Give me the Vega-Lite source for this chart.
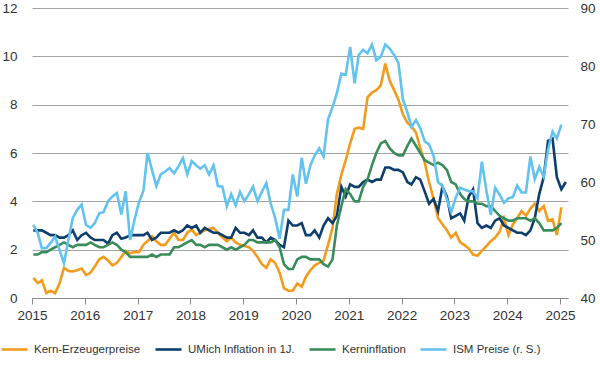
{
"$schema":"https://vega.github.io/schema/vega-lite/v6.json",
"width":536,"height":290,
"autosize":{"type":"none"},
"padding":{"left":32,"top":8,"right":32,"bottom":82},
"background":"white",
"config":{"view":{"stroke":null},"axis":{"labelFont":"Liberation Sans","labelFontSize":13.5,"labelColor":"#333333","title":null}},
"datasets":{
"K":[
{"d":"2015-01-10","v":0.83},{"d":"2015-02-10","v":0.62},{"d":"2015-03-10","v":0.73},{"d":"2015-04-10","v":0.2},{"d":"2015-05-10","v":0.3},{"d":"2015-06-10","v":0.2},{"d":"2015-07-10","v":0.6},{"d":"2015-08-10","v":1.25},{"d":"2015-09-10","v":1.12},{"d":"2015-10-10","v":1.1},{"d":"2015-11-10","v":1.15},{"d":"2015-12-10","v":1.22},
{"d":"2016-01-10","v":0.95},{"d":"2016-02-10","v":1.05},{"d":"2016-03-10","v":1.3},{"d":"2016-04-10","v":1.6},{"d":"2016-05-10","v":1.7},{"d":"2016-06-10","v":1.55},{"d":"2016-07-10","v":1.35},{"d":"2016-08-10","v":1.45},{"d":"2016-09-10","v":1.7},{"d":"2016-10-10","v":1.95},{"d":"2016-11-10","v":1.85},{"d":"2016-12-10","v":1.9},
{"d":"2017-01-10","v":1.9},{"d":"2017-02-10","v":2.2},{"d":"2017-03-10","v":2.35},{"d":"2017-04-10","v":2.55},{"d":"2017-05-10","v":2.35},{"d":"2017-06-10","v":2.2},{"d":"2017-07-10","v":2.2},{"d":"2017-08-10","v":2.45},{"d":"2017-09-10","v":2.7},{"d":"2017-10-10","v":2.4},{"d":"2017-11-10","v":2.4},{"d":"2017-12-10","v":2.7},
{"d":"2018-01-10","v":2.83},{"d":"2018-02-10","v":2.6},{"d":"2018-03-10","v":2.7},{"d":"2018-04-10","v":2.8},{"d":"2018-05-10","v":2.85},{"d":"2018-06-10","v":2.9},{"d":"2018-07-10","v":2.7},{"d":"2018-08-10","v":2.5},{"d":"2018-09-10","v":2.35},{"d":"2018-10-10","v":2.5},{"d":"2018-11-10","v":2.3},{"d":"2018-12-10","v":2.2},
{"d":"2019-01-10","v":2.15},{"d":"2019-02-10","v":2.1},{"d":"2019-03-10","v":1.95},{"d":"2019-04-10","v":1.7},{"d":"2019-05-10","v":1.4},{"d":"2019-06-10","v":1.25},{"d":"2019-07-10","v":1.6},{"d":"2019-08-10","v":1.45},{"d":"2019-09-10","v":1.05},{"d":"2019-10-10","v":0.4},{"d":"2019-11-10","v":0.3},{"d":"2019-12-10","v":0.3},
{"d":"2020-01-10","v":0.6},{"d":"2020-02-10","v":0.47},{"d":"2020-03-10","v":0.88},{"d":"2020-04-10","v":1.15},{"d":"2020-05-10","v":1.35},{"d":"2020-06-10","v":1.45},{"d":"2020-07-10","v":1.55},{"d":"2020-08-10","v":2.2},{"d":"2020-09-10","v":2.9},{"d":"2020-10-10","v":4.3},{"d":"2020-11-10","v":5.1},{"d":"2020-12-10","v":5.7},
{"d":"2021-01-10","v":6.4},{"d":"2021-02-10","v":7.0},{"d":"2021-03-10","v":7.05},{"d":"2021-04-10","v":7.0},{"d":"2021-05-10","v":8.3},{"d":"2021-06-10","v":8.5},{"d":"2021-07-10","v":8.6},{"d":"2021-08-10","v":8.8},{"d":"2021-09-10","v":9.7},{"d":"2021-10-10","v":9.0},{"d":"2021-11-10","v":8.6},{"d":"2021-12-10","v":8.2},
{"d":"2022-01-10","v":7.6},{"d":"2022-02-10","v":7.25},{"d":"2022-03-10","v":7.1},{"d":"2022-04-10","v":6.85},{"d":"2022-05-10","v":6.2},{"d":"2022-06-10","v":5.6},{"d":"2022-07-10","v":4.8},{"d":"2022-08-10","v":4.1},{"d":"2022-09-10","v":3.3},{"d":"2022-10-10","v":3.05},{"d":"2022-11-10","v":2.8},{"d":"2022-12-10","v":2.5},
{"d":"2023-01-10","v":2.7},{"d":"2023-02-10","v":2.3},{"d":"2023-03-10","v":2.2},{"d":"2023-04-10","v":2.05},{"d":"2023-05-10","v":1.8},{"d":"2023-06-10","v":1.75},{"d":"2023-07-10","v":1.95},{"d":"2023-08-10","v":2.15},{"d":"2023-09-10","v":2.35},{"d":"2023-10-10","v":2.5},{"d":"2023-11-10","v":2.75},{"d":"2023-12-10","v":3.3},
{"d":"2024-01-10","v":2.6},{"d":"2024-02-10","v":3.05},{"d":"2024-03-10","v":3.3},{"d":"2024-04-10","v":3.6},{"d":"2024-05-10","v":3.4},{"d":"2024-06-10","v":3.7},{"d":"2024-07-10","v":3.9},{"d":"2024-08-10","v":3.6},{"d":"2024-09-10","v":3.8},{"d":"2024-10-10","v":3.2},{"d":"2024-11-10","v":3.25},{"d":"2024-12-10","v":2.6},
{"d":"2025-01-10","v":3.75}],
"U":[
{"d":"2015-01-10","v":2.8},{"d":"2015-02-10","v":2.8},{"d":"2015-03-10","v":2.8},{"d":"2015-04-10","v":2.7},{"d":"2015-05-10","v":2.6},{"d":"2015-06-10","v":2.6},{"d":"2015-07-10","v":2.5},{"d":"2015-08-10","v":2.5},{"d":"2015-09-10","v":2.6},{"d":"2015-10-10","v":2.8},{"d":"2015-11-10","v":2.4},{"d":"2015-12-10","v":2.6},
{"d":"2016-01-10","v":2.7},{"d":"2016-02-10","v":2.5},{"d":"2016-03-10","v":2.4},{"d":"2016-04-10","v":2.4},{"d":"2016-05-10","v":2.4},{"d":"2016-06-10","v":2.25},{"d":"2016-07-10","v":2.6},{"d":"2016-08-10","v":2.7},{"d":"2016-09-10","v":2.45},{"d":"2016-10-10","v":2.5},{"d":"2016-11-10","v":2.6},{"d":"2016-12-10","v":2.6},
{"d":"2017-01-10","v":2.6},{"d":"2017-02-10","v":2.6},{"d":"2017-03-10","v":2.7},{"d":"2017-04-10","v":2.4},{"d":"2017-05-10","v":2.5},{"d":"2017-06-10","v":2.7},{"d":"2017-07-10","v":2.7},{"d":"2017-08-10","v":2.7},{"d":"2017-09-10","v":2.8},{"d":"2017-10-10","v":2.7},{"d":"2017-11-10","v":2.8},{"d":"2017-12-10","v":3.0},
{"d":"2018-01-10","v":2.9},{"d":"2018-02-10","v":3.0},{"d":"2018-03-10","v":2.7},{"d":"2018-04-10","v":2.9},{"d":"2018-05-10","v":2.8},{"d":"2018-06-10","v":2.7},{"d":"2018-07-10","v":2.7},{"d":"2018-08-10","v":2.6},{"d":"2018-09-10","v":2.5},{"d":"2018-10-10","v":2.5},{"d":"2018-11-10","v":2.9},{"d":"2018-12-10","v":2.7},
{"d":"2019-01-10","v":2.7},{"d":"2019-02-10","v":2.6},{"d":"2019-03-10","v":2.8},{"d":"2019-04-10","v":2.5},{"d":"2019-05-10","v":2.5},{"d":"2019-06-10","v":2.3},{"d":"2019-07-10","v":2.5},{"d":"2019-08-10","v":2.4},{"d":"2019-09-10","v":2.2},{"d":"2019-10-10","v":2.1},{"d":"2019-11-10","v":3.2},{"d":"2019-12-10","v":3.0},
{"d":"2020-01-10","v":3.0},{"d":"2020-02-10","v":3.1},{"d":"2020-03-10","v":2.6},{"d":"2020-04-10","v":2.6},{"d":"2020-05-10","v":2.8},{"d":"2020-06-10","v":2.5},{"d":"2020-07-10","v":3.0},{"d":"2020-08-10","v":3.3},{"d":"2020-09-10","v":3.1},{"d":"2020-10-10","v":3.4},{"d":"2020-11-10","v":4.6},{"d":"2020-12-10","v":4.2},
{"d":"2021-01-10","v":4.7},{"d":"2021-02-10","v":4.6},{"d":"2021-03-10","v":4.6},{"d":"2021-04-10","v":4.8},{"d":"2021-05-10","v":4.9},{"d":"2021-06-10","v":4.8},{"d":"2021-07-10","v":4.9},{"d":"2021-08-10","v":4.9},{"d":"2021-09-10","v":5.4},{"d":"2021-10-10","v":5.4},{"d":"2021-11-10","v":5.3},{"d":"2021-12-10","v":5.3},
{"d":"2022-01-10","v":5.2},{"d":"2022-02-10","v":4.8},{"d":"2022-03-10","v":4.7},{"d":"2022-04-10","v":5.0},{"d":"2022-05-10","v":4.9},{"d":"2022-06-10","v":4.4},{"d":"2022-07-10","v":3.9},{"d":"2022-08-10","v":4.1},{"d":"2022-09-10","v":3.6},{"d":"2022-10-10","v":4.6},{"d":"2022-11-10","v":4.2},{"d":"2022-12-10","v":3.3},
{"d":"2023-01-10","v":3.4},{"d":"2023-02-10","v":3.5},{"d":"2023-03-10","v":3.2},{"d":"2023-04-10","v":4.2},{"d":"2023-05-10","v":4.5},{"d":"2023-06-10","v":3.1},{"d":"2023-07-10","v":2.9},{"d":"2023-08-10","v":3.0},{"d":"2023-09-10","v":2.9},{"d":"2023-10-10","v":3.2},{"d":"2023-11-10","v":3.3},{"d":"2023-12-10","v":3.0},
{"d":"2024-01-10","v":2.9},{"d":"2024-02-10","v":2.8},{"d":"2024-03-10","v":2.7},{"d":"2024-04-10","v":2.7},{"d":"2024-05-10","v":2.6},{"d":"2024-06-10","v":2.8},{"d":"2024-07-10","v":3.3},{"d":"2024-08-10","v":4.3},{"d":"2024-09-10","v":5.0},{"d":"2024-10-10","v":6.5},{"d":"2024-11-10","v":6.6},{"d":"2024-12-10","v":5.0},
{"d":"2025-01-10","v":4.5},{"d":"2025-02-10","v":4.8}],
"C":[
{"d":"2015-01-10","v":1.8},{"d":"2015-02-10","v":1.8},{"d":"2015-03-10","v":1.9},{"d":"2015-04-10","v":1.9},{"d":"2015-05-10","v":2.0},{"d":"2015-06-10","v":2.1},{"d":"2015-07-10","v":2.2},{"d":"2015-08-10","v":2.3},{"d":"2015-09-10","v":2.2},{"d":"2015-10-10","v":2.1},{"d":"2015-11-10","v":2.2},{"d":"2015-12-10","v":2.2},
{"d":"2016-01-10","v":2.2},{"d":"2016-02-10","v":2.3},{"d":"2016-03-10","v":2.2},{"d":"2016-04-10","v":2.1},{"d":"2016-05-10","v":2.1},{"d":"2016-06-10","v":2.2},{"d":"2016-07-10","v":2.3},{"d":"2016-08-10","v":2.2},{"d":"2016-09-10","v":2.0},{"d":"2016-10-10","v":1.9},{"d":"2016-11-10","v":1.7},{"d":"2016-12-10","v":1.7},
{"d":"2017-01-10","v":1.7},{"d":"2017-02-10","v":1.7},{"d":"2017-03-10","v":1.7},{"d":"2017-04-10","v":1.8},{"d":"2017-05-10","v":1.7},{"d":"2017-06-10","v":1.8},{"d":"2017-07-10","v":1.8},{"d":"2017-08-10","v":1.8},{"d":"2017-09-10","v":2.1},{"d":"2017-10-10","v":2.1},{"d":"2017-11-10","v":2.2},{"d":"2017-12-10","v":2.3},
{"d":"2018-01-10","v":2.4},{"d":"2018-02-10","v":2.2},{"d":"2018-03-10","v":2.2},{"d":"2018-04-10","v":2.1},{"d":"2018-05-10","v":2.2},{"d":"2018-06-10","v":2.2},{"d":"2018-07-10","v":2.2},{"d":"2018-08-10","v":2.1},{"d":"2018-09-10","v":2.0},{"d":"2018-10-10","v":2.1},{"d":"2018-11-10","v":2.0},{"d":"2018-12-10","v":2.1},
{"d":"2019-01-10","v":2.2},{"d":"2019-02-10","v":2.4},{"d":"2019-03-10","v":2.4},{"d":"2019-04-10","v":2.3},{"d":"2019-05-10","v":2.3},{"d":"2019-06-10","v":2.3},{"d":"2019-07-10","v":2.3},{"d":"2019-08-10","v":2.4},{"d":"2019-09-10","v":2.1},{"d":"2019-10-10","v":1.4},{"d":"2019-11-10","v":1.2},{"d":"2019-12-10","v":1.2},
{"d":"2020-01-10","v":1.6},{"d":"2020-02-10","v":1.7},{"d":"2020-03-10","v":1.7},{"d":"2020-04-10","v":1.6},{"d":"2020-05-10","v":1.6},{"d":"2020-06-10","v":1.6},{"d":"2020-07-10","v":1.4},{"d":"2020-08-10","v":1.3},{"d":"2020-09-10","v":1.6},{"d":"2020-10-10","v":3.0},{"d":"2020-11-10","v":3.8},{"d":"2020-12-10","v":4.5},
{"d":"2021-01-10","v":4.3},{"d":"2021-02-10","v":4.0},{"d":"2021-03-10","v":4.0},{"d":"2021-04-10","v":4.6},{"d":"2021-05-10","v":4.9},{"d":"2021-06-10","v":5.5},{"d":"2021-07-10","v":6.0},{"d":"2021-08-10","v":6.4},{"d":"2021-09-10","v":6.5},{"d":"2021-10-10","v":6.2},{"d":"2021-11-10","v":6.0},{"d":"2021-12-10","v":5.9},
{"d":"2022-01-10","v":5.9},{"d":"2022-02-10","v":6.3},{"d":"2022-03-10","v":6.6},{"d":"2022-04-10","v":6.3},{"d":"2022-05-10","v":6.0},{"d":"2022-06-10","v":5.7},{"d":"2022-07-10","v":5.6},{"d":"2022-08-10","v":5.5},{"d":"2022-09-10","v":5.6},{"d":"2022-10-10","v":5.5},{"d":"2022-11-10","v":5.3},{"d":"2022-12-10","v":4.8},
{"d":"2023-01-10","v":4.7},{"d":"2023-02-10","v":4.3},{"d":"2023-03-10","v":4.1},{"d":"2023-04-10","v":4.0},{"d":"2023-05-10","v":4.0},{"d":"2023-06-10","v":3.9},{"d":"2023-07-10","v":3.9},{"d":"2023-08-10","v":3.8},{"d":"2023-09-10","v":3.8},{"d":"2023-10-10","v":3.6},{"d":"2023-11-10","v":3.4},{"d":"2023-12-10","v":3.3},
{"d":"2024-01-10","v":3.2},{"d":"2024-02-10","v":3.2},{"d":"2024-03-10","v":3.3},{"d":"2024-04-10","v":3.3},{"d":"2024-05-10","v":3.3},{"d":"2024-06-10","v":3.2},{"d":"2024-07-10","v":3.3},{"d":"2024-08-10","v":3.1},{"d":"2024-09-10","v":2.8},{"d":"2024-10-10","v":2.8},{"d":"2024-11-10","v":2.8},{"d":"2024-12-10","v":2.9},
{"d":"2025-01-10","v":3.1}],
"I":[
{"d":"2015-01-10","v":52.6},{"d":"2015-02-10","v":51.2},{"d":"2015-03-10","v":48.6},{"d":"2015-04-10","v":48.6},{"d":"2015-05-10","v":49.5},{"d":"2015-06-10","v":50.6},{"d":"2015-07-10","v":48.3},{"d":"2015-08-10","v":46.0},{"d":"2015-09-10","v":50.0},{"d":"2015-10-10","v":53.8},{"d":"2015-11-10","v":55.2},{"d":"2015-12-10","v":56.1},
{"d":"2016-01-10","v":52.6},{"d":"2016-02-10","v":52.1},{"d":"2016-03-10","v":52.9},{"d":"2016-04-10","v":54.6},{"d":"2016-05-10","v":54.8},{"d":"2016-06-10","v":56.7},{"d":"2016-07-10","v":57.5},{"d":"2016-08-10","v":58.1},{"d":"2016-09-10","v":54.4},{"d":"2016-10-10","v":58.4},{"d":"2016-11-10","v":50.0},{"d":"2016-12-10","v":53.5},
{"d":"2017-01-10","v":56.5},{"d":"2017-02-10","v":58.5},{"d":"2017-03-10","v":65.0},{"d":"2017-04-10","v":62.1},{"d":"2017-05-10","v":59.3},{"d":"2017-06-10","v":61.3},{"d":"2017-07-10","v":61.8},{"d":"2017-08-10","v":62.4},{"d":"2017-09-10","v":61.5},{"d":"2017-10-10","v":62.7},{"d":"2017-11-10","v":64.1},{"d":"2017-12-10","v":61.3},
{"d":"2018-01-10","v":63.6},{"d":"2018-02-10","v":62.9},{"d":"2018-03-10","v":62.3},{"d":"2018-04-10","v":62.9},{"d":"2018-05-10","v":61.3},{"d":"2018-06-10","v":62.9},{"d":"2018-07-10","v":59.3},{"d":"2018-08-10","v":59.2},{"d":"2018-09-10","v":55.8},{"d":"2018-10-10","v":57.9},{"d":"2018-11-10","v":56.0},{"d":"2018-12-10","v":58.3},
{"d":"2019-01-10","v":56.7},{"d":"2019-02-10","v":57.9},{"d":"2019-03-10","v":59.2},{"d":"2019-04-10","v":56.7},{"d":"2019-05-10","v":58.3},{"d":"2019-06-10","v":59.8},{"d":"2019-07-10","v":56.3},{"d":"2019-08-10","v":53.8},{"d":"2019-09-10","v":50.2},{"d":"2019-10-10","v":55.2},{"d":"2019-11-10","v":55.2},{"d":"2019-12-10","v":61.3},
{"d":"2020-01-10","v":57.5},{"d":"2020-02-10","v":64.2},{"d":"2020-03-10","v":59.7},{"d":"2020-04-10","v":62.9},{"d":"2020-05-10","v":64.6},{"d":"2020-06-10","v":65.8},{"d":"2020-07-10","v":64.4},{"d":"2020-08-10","v":70.8},{"d":"2020-09-10","v":72.9},{"d":"2020-10-10","v":75.3},{"d":"2020-11-10","v":78.7},{"d":"2020-12-10","v":78.5},
{"d":"2021-01-10","v":83.3},{"d":"2021-02-10","v":77.0},{"d":"2021-03-10","v":81.9},{"d":"2021-04-10","v":82.8},{"d":"2021-05-10","v":82.2},{"d":"2021-06-10","v":83.7},{"d":"2021-07-10","v":81.0},{"d":"2021-08-10","v":81.6},{"d":"2021-09-10","v":83.7},{"d":"2021-10-10","v":83.0},{"d":"2021-11-10","v":81.9},{"d":"2021-12-10","v":80.5},
{"d":"2022-01-10","v":74.2},{"d":"2022-02-10","v":72.0},{"d":"2022-03-10","v":69.5},{"d":"2022-04-10","v":70.7},{"d":"2022-05-10","v":69.3},{"d":"2022-06-10","v":67.0},{"d":"2022-07-10","v":66.5},{"d":"2022-08-10","v":64.5},{"d":"2022-09-10","v":60.0},{"d":"2022-10-10","v":59.3},{"d":"2022-11-10","v":57.0},{"d":"2022-12-10","v":54.8},
{"d":"2023-01-10","v":57.3},{"d":"2023-02-10","v":59.0},{"d":"2023-03-10","v":58.7},{"d":"2023-04-10","v":58.4},{"d":"2023-05-10","v":58.4},{"d":"2023-06-10","v":57.2},{"d":"2023-07-10","v":63.5},{"d":"2023-08-10","v":58.6},{"d":"2023-09-10","v":54.3},{"d":"2023-10-10","v":59.0},{"d":"2023-11-10","v":57.8},{"d":"2023-12-10","v":56.4},
{"d":"2024-01-10","v":57.2},{"d":"2024-02-10","v":57.4},{"d":"2024-03-10","v":59.4},{"d":"2024-04-10","v":58.2},{"d":"2024-05-10","v":58.2},{"d":"2024-06-10","v":64.4},{"d":"2024-07-10","v":60.5},{"d":"2024-08-10","v":62.6},{"d":"2024-09-10","v":60.9},{"d":"2024-10-10","v":65.6},{"d":"2024-11-10","v":68.7},{"d":"2024-12-10","v":67.5},
{"d":"2025-01-10","v":69.9}]
},
"encoding":{
"x":{"field":"d","type":"temporal",
"scale":{"type":"utc","domain":[{"year":2015,"month":1,"date":1,"utc":true},{"year":2025,"month":2,"date":25,"utc":true}]},
"axis":{"values":[{"year":2015,"utc":true},{"year":2016,"utc":true},{"year":2017,"utc":true},{"year":2018,"utc":true},{"year":2019,"utc":true},{"year":2020,"utc":true},{"year":2021,"utc":true},{"year":2022,"utc":true},{"year":2023,"utc":true},{"year":2024,"utc":true},{"year":2025,"utc":true}],
"format":"%Y","grid":false,"domain":true,"domainColor":"#8a8a8a","domainWidth":1,"ticks":true,"tickColor":"#8a8a8a","tickSize":6,"labelPadding":4,"labelFlush":false}}
},
"layer":[
{"layer":[
{"data":{"name":"K"},"mark":{"type":"line","strokeWidth":2.6},
"encoding":{"y":{"field":"v","type":"quantitative","scale":{"domain":[0,12],"nice":false},
"axis":{"orient":"left","values":[0,2,4,6,8,10,12],"grid":true,"gridColor":"#a3a3a3","gridWidth":1,"domain":false,"ticks":false,"labelPadding":15}},
"color":{"datum":"Kern-Erzeugerpreise","type":"nominal",
"scale":{"domain":["Kern-Erzeugerpreise","UMich Inflation in 1J.","Kerninflation","ISM Preise (r. S.)"],"range":["#f39b1c","#0e3e6c","#3b8c5b","#63c3ee"]},
"legend":{"orient":"none","legendX":-32,"legendY":327,"direction":"horizontal","title":null,"symbolType":"stroke","symbolSize":676,"symbolStrokeWidth":2.6,"labelFont":"Liberation Sans","labelFontSize":11.5,"labelColor":"#333333","labelOffset":5,"columnPadding":9,"padding":0}}}},
{"data":{"name":"U"},"mark":{"type":"line","strokeWidth":2.6},
"encoding":{"y":{"field":"v","type":"quantitative"},"color":{"datum":"UMich Inflation in 1J.","type":"nominal"}}},
{"data":{"name":"C"},"mark":{"type":"line","strokeWidth":2.6},
"encoding":{"y":{"field":"v","type":"quantitative"},"color":{"datum":"Kerninflation","type":"nominal"}}}
]},
{"data":{"name":"I"},"mark":{"type":"line","strokeWidth":2.6},
"encoding":{"y":{"field":"v","type":"quantitative","scale":{"domain":[40,90],"nice":false},
"axis":{"orient":"right","values":[40,50,60,70,80,90],"grid":false,"domain":false,"ticks":false,"labelPadding":12}},
"color":{"datum":"ISM Preise (r. S.)","type":"nominal"}}}
],
"resolve":{"scale":{"y":"independent"}}
}
